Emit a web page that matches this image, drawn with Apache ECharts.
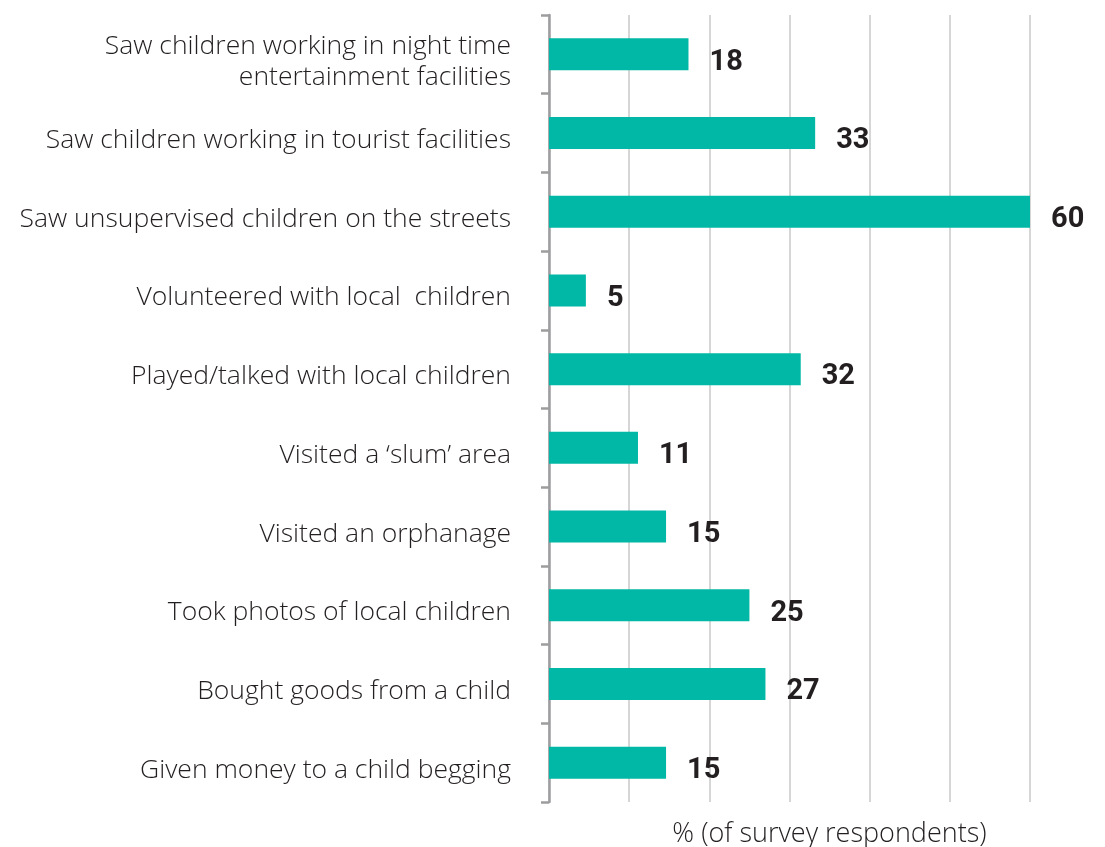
<!DOCTYPE html>
<html>
<head>
<meta charset="utf-8">
<script src="https://cdn.jsdelivr.net/npm/echarts@6/dist/echarts.min.js"></script>
<style>html,body{margin:0;padding:0;background:#fff}#c{width:1105px;height:847px}</style>
</head>
<body>
<div id="c"></div>
<script>
const categories = [
  "Saw children working in night time\nentertainment facilities",
  "Saw children working in tourist facilities",
  "Saw unsupervised children on the streets",
  "Volunteered with local  children",
  "Played/talked with local children",
  "Visited a \u2018slum\u2019 area",
  "Visited an orphanage",
  "Took photos of local children",
  "Bought goods from a child",
  "Given money to a child begging"
];
const values = [17.4, 33.2, 60, 4.6, 31.4, 11.1, 14.6, 25, 27, 14.6];
const valueLabels = ["18", "33", "60", "5", "32", "11", "15", "25", "27", "15"];
const axisName = "% (of survey respondents)";

const chart = echarts.init(document.getElementById('c'));
chart.setOption({
  animation: false,
  grid: { left: 549, right: 75, top: 15, bottom: 45, containLabel: false, outerBoundsMode: 'none' },
  xAxis: {
    type: 'value', min: 0, max: 60, interval: 10,
    axisLine: { show: false }, axisTick: { show: false }, axisLabel: { show: false },
    splitLine: { lineStyle: { color: '#c9c9c9', width: 1.5 } },
    name: axisName, nameLocation: 'middle', nameGap: 19,
    nameTextStyle: { fontFamily: '"Open Sans"', fontWeight: 300, fontSize: 27, color: '#231f20', padding: [0, 0, 0, 80] }
  },
  yAxis: {
    type: 'category', data: categories, inverse: true,
    axisLine: { show: true, lineStyle: { color: '#9d9d9f', width: 2.5 } },
    axisTick: { show: true, inside: false, length: 8, lineStyle: { color: '#9d9d9f', width: 2.5 } },
    axisLabel: {
      margin: 38, align: 'right',
      formatter: v => '{s| }\n' + v.split('\n').map(l => '{a|' + l + '}').join('\n'),
      rich: {
        s: { fontSize: 1, lineHeight: 15 },
        a: { fontFamily: '"Open Sans"', fontWeight: 300, fontSize: 26.5, color: '#231f20', lineHeight: 31, align: 'right' }
      }
    },
    splitLine: { show: false }
  },
  series: [{
    type: 'bar', data: values, barWidth: 32,
    itemStyle: { color: '#00b8a5' },
    label: {
      show: true, position: 'right', distance: 21, offset: [0, 8],
      formatter: p => valueLabels[p.dataIndex],
      fontFamily: 'Roboto',
      fontWeight: 'bold', fontSize: 29, color: '#231f20'
    }
  }]
});
</script>
</body>
</html>
